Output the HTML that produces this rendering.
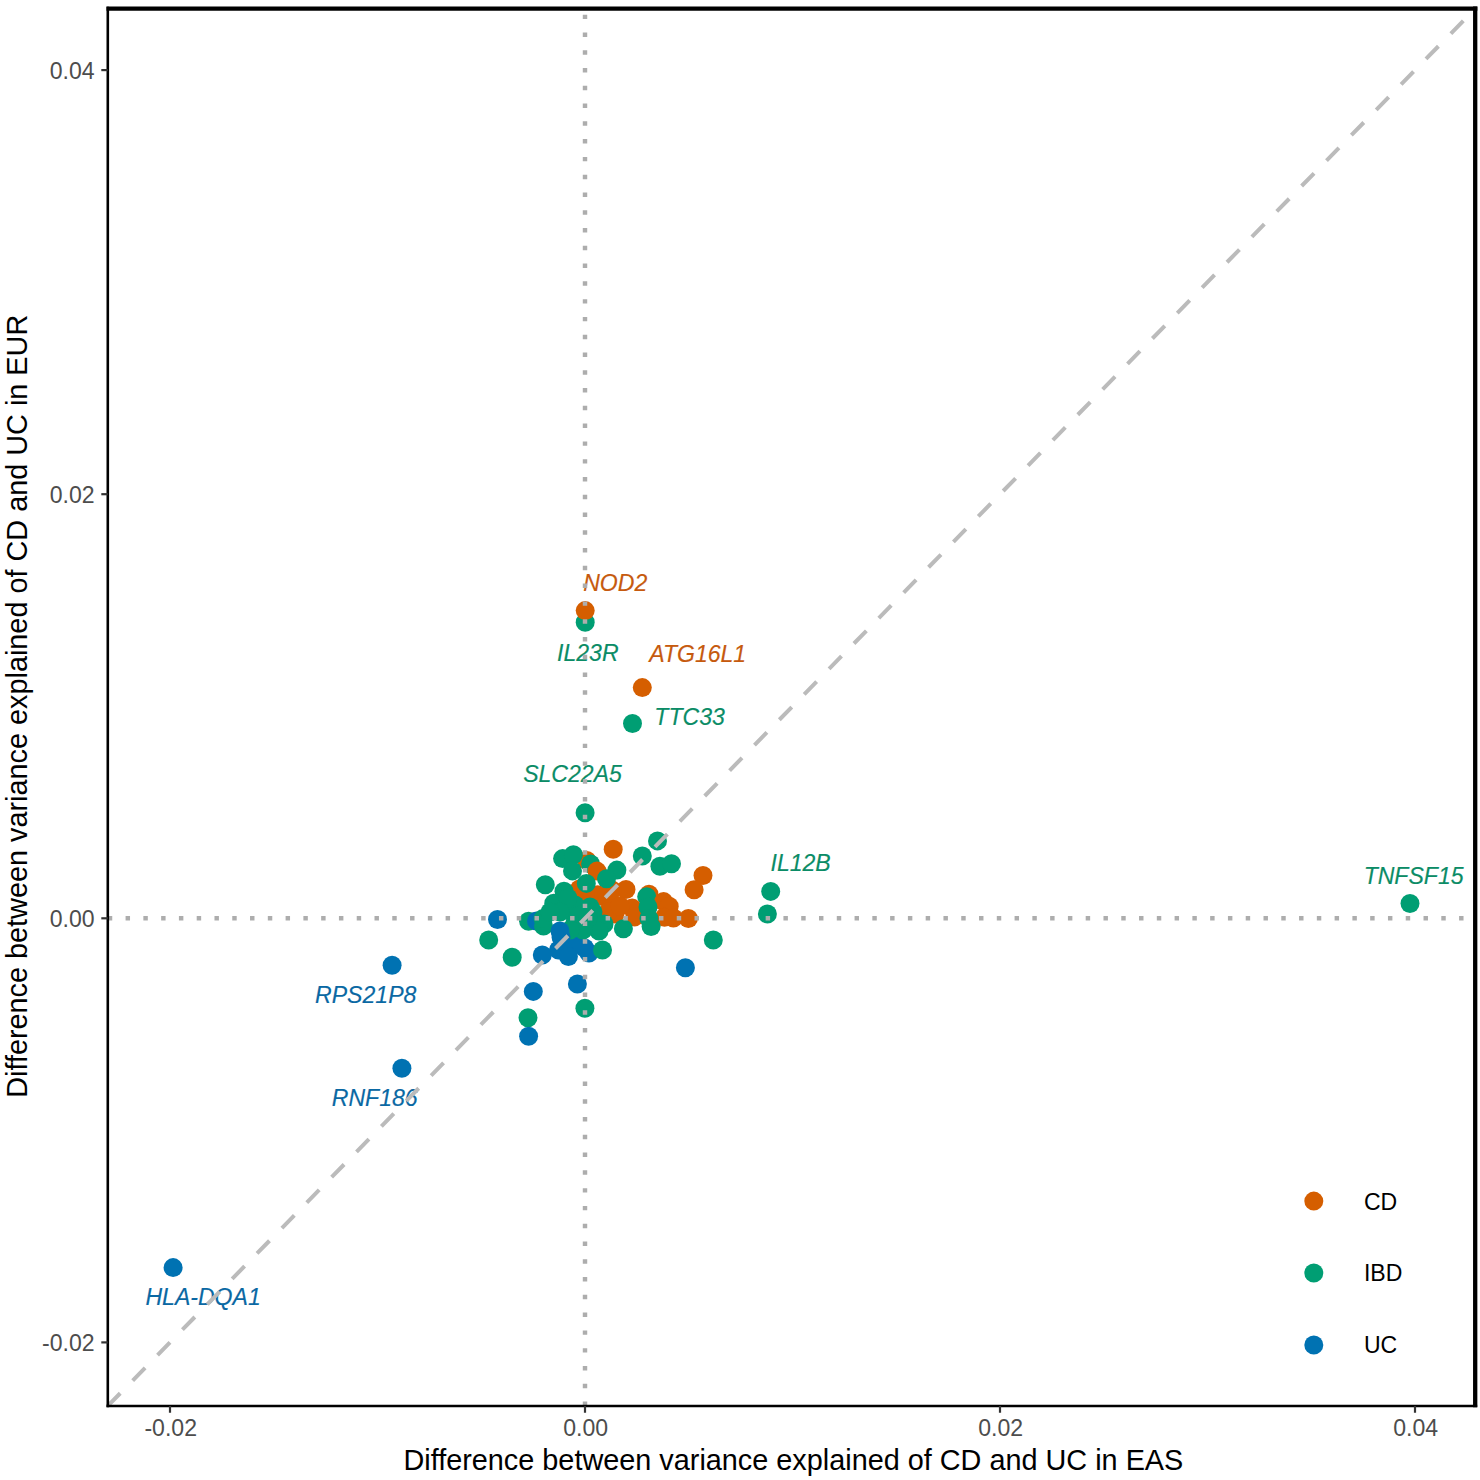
<!DOCTYPE html><html><head><meta charset="utf-8"><style>html,body{margin:0;padding:0;background:#fff;}svg{display:block;}text{font-family:"Liberation Sans",sans-serif;}</style></head><body>
<svg width="1480" height="1480" viewBox="0 0 1480 1480">
<rect width="1480" height="1480" fill="#fff"/>
<g>
<circle cx="585.2" cy="622.2" r="9.5" fill="#009E73"/>
<circle cx="585.2" cy="610.6" r="9.5" fill="#D55E00"/>
<circle cx="642.3" cy="687.6" r="9.5" fill="#D55E00"/>
<circle cx="632.5" cy="723.5" r="9.5" fill="#009E73"/>
<circle cx="585.1" cy="812.8" r="9.5" fill="#009E73"/>
<circle cx="770.7" cy="891.4" r="9.5" fill="#009E73"/>
<circle cx="767.4" cy="914.0" r="9.5" fill="#009E73"/>
<circle cx="1410.0" cy="903.5" r="9.5" fill="#009E73"/>
<circle cx="392.1" cy="965.2" r="9.5" fill="#0072B2"/>
<circle cx="401.9" cy="1068.3" r="9.5" fill="#0072B2"/>
<circle cx="173.1" cy="1267.6" r="9.5" fill="#0072B2"/>
<circle cx="497.5" cy="919.5" r="9.5" fill="#0072B2"/>
<circle cx="488.7" cy="940.0" r="9.5" fill="#009E73"/>
<circle cx="512.2" cy="957.3" r="9.5" fill="#009E73"/>
<circle cx="533.3" cy="991.4" r="9.5" fill="#0072B2"/>
<circle cx="577.4" cy="984.0" r="9.5" fill="#0072B2"/>
<circle cx="584.9" cy="1008.3" r="9.5" fill="#009E73"/>
<circle cx="528.0" cy="1017.8" r="9.5" fill="#009E73"/>
<circle cx="528.6" cy="1036.3" r="9.5" fill="#0072B2"/>
<circle cx="685.4" cy="967.8" r="9.5" fill="#0072B2"/>
<circle cx="713.3" cy="940.0" r="9.5" fill="#009E73"/>
<circle cx="657.5" cy="840.9" r="9.5" fill="#009E73"/>
<circle cx="613.2" cy="849.2" r="9.5" fill="#D55E00"/>
<circle cx="642.3" cy="856.0" r="9.5" fill="#009E73"/>
<circle cx="659.9" cy="866.2" r="9.5" fill="#009E73"/>
<circle cx="671.5" cy="863.8" r="9.5" fill="#009E73"/>
<circle cx="703.0" cy="875.5" r="9.5" fill="#D55E00"/>
<circle cx="694.1" cy="889.8" r="9.5" fill="#D55E00"/>
<circle cx="586.8" cy="860.4" r="9.5" fill="#D55E00"/>
<circle cx="562.6" cy="858.6" r="9.5" fill="#009E73"/>
<circle cx="573.4" cy="854.7" r="9.5" fill="#009E73"/>
<circle cx="572.5" cy="870.9" r="9.5" fill="#009E73"/>
<circle cx="590.6" cy="863.9" r="9.5" fill="#009E73"/>
<circle cx="597.0" cy="871.1" r="9.5" fill="#D55E00"/>
<circle cx="616.9" cy="870.1" r="9.5" fill="#009E73"/>
<circle cx="626.0" cy="889.5" r="9.5" fill="#D55E00"/>
<circle cx="649.0" cy="894.3" r="9.5" fill="#D55E00"/>
<circle cx="646.7" cy="896.8" r="9.5" fill="#009E73"/>
<circle cx="663.6" cy="901.6" r="9.5" fill="#D55E00"/>
<circle cx="669.2" cy="906.3" r="9.5" fill="#D55E00"/>
<circle cx="664.5" cy="917.3" r="9.5" fill="#D55E00"/>
<circle cx="673.4" cy="918.0" r="9.5" fill="#D55E00"/>
<circle cx="688.4" cy="918.5" r="9.5" fill="#D55E00"/>
<circle cx="632.2" cy="908.1" r="9.5" fill="#D55E00"/>
<circle cx="634.7" cy="916.9" r="9.5" fill="#D55E00"/>
<circle cx="613.2" cy="904.1" r="9.5" fill="#D55E00"/>
<circle cx="603.1" cy="896.6" r="9.5" fill="#D55E00"/>
<circle cx="597.7" cy="894.7" r="9.5" fill="#D55E00"/>
<circle cx="585.5" cy="896.7" r="9.5" fill="#D55E00"/>
<circle cx="615.0" cy="914.0" r="9.5" fill="#D55E00"/>
<circle cx="608.0" cy="912.0" r="9.5" fill="#D55E00"/>
<circle cx="612.0" cy="890.0" r="9.5" fill="#D55E00"/>
<circle cx="620.0" cy="906.0" r="9.5" fill="#D55E00"/>
<circle cx="579.5" cy="889.0" r="9.5" fill="#D55E00"/>
<circle cx="584.6" cy="948.0" r="9.5" fill="#0072B2"/>
<circle cx="575.0" cy="944.0" r="9.5" fill="#0072B2"/>
<circle cx="589.0" cy="953.0" r="9.5" fill="#0072B2"/>
<circle cx="545.3" cy="884.7" r="9.5" fill="#009E73"/>
<circle cx="564.0" cy="891.2" r="9.5" fill="#009E73"/>
<circle cx="586.3" cy="883.4" r="9.5" fill="#009E73"/>
<circle cx="606.5" cy="878.8" r="9.5" fill="#009E73"/>
<circle cx="648.0" cy="907.0" r="9.5" fill="#009E73"/>
<circle cx="648.9" cy="918.5" r="9.5" fill="#009E73"/>
<circle cx="651.1" cy="926.5" r="9.5" fill="#009E73"/>
<circle cx="623.4" cy="928.7" r="9.5" fill="#009E73"/>
<circle cx="528.6" cy="921.3" r="9.5" fill="#009E73"/>
<circle cx="536.5" cy="921.0" r="9.5" fill="#0072B2"/>
<circle cx="543.5" cy="926.0" r="9.5" fill="#009E73"/>
<circle cx="543.0" cy="918.6" r="9.5" fill="#009E73"/>
<circle cx="553.8" cy="903.3" r="9.5" fill="#009E73"/>
<circle cx="564.0" cy="910.0" r="9.5" fill="#009E73"/>
<circle cx="575.0" cy="905.0" r="9.5" fill="#009E73"/>
<circle cx="590.0" cy="907.0" r="9.5" fill="#009E73"/>
<circle cx="593.0" cy="912.0" r="9.5" fill="#009E73"/>
<circle cx="575.0" cy="922.0" r="9.5" fill="#009E73"/>
<circle cx="590.0" cy="924.0" r="9.5" fill="#009E73"/>
<circle cx="604.0" cy="924.0" r="9.5" fill="#009E73"/>
<circle cx="599.0" cy="931.0" r="9.5" fill="#009E73"/>
<circle cx="568.0" cy="898.0" r="9.5" fill="#009E73"/>
<circle cx="560.0" cy="912.0" r="9.5" fill="#009E73"/>
<circle cx="580.0" cy="915.0" r="9.5" fill="#009E73"/>
<circle cx="588.0" cy="918.0" r="9.5" fill="#009E73"/>
<circle cx="550.0" cy="912.0" r="9.5" fill="#009E73"/>
<circle cx="583.0" cy="930.0" r="9.5" fill="#009E73"/>
<circle cx="570.0" cy="930.0" r="9.5" fill="#009E73"/>
<circle cx="602.5" cy="950.0" r="9.5" fill="#009E73"/>
<circle cx="558.5" cy="950.0" r="9.5" fill="#0072B2"/>
<circle cx="561.0" cy="937.0" r="9.5" fill="#0072B2"/>
<circle cx="560.0" cy="931.0" r="9.5" fill="#0072B2"/>
<circle cx="542.3" cy="955.0" r="9.5" fill="#0072B2"/>
<circle cx="568.4" cy="956.5" r="9.5" fill="#0072B2"/>
</g>
<g font-style="italic" font-size="23.07" text-anchor="middle">
<text transform="translate(615.25 590.5) scale(1 1.03)" fill="#C65A0E" stroke="#C65A0E" stroke-width="0.15">NOD2</text>
<text transform="translate(587.8 661.0) scale(1 1.03)" fill="#0B8C66" stroke="#0B8C66" stroke-width="0.15">IL23R</text>
<text transform="translate(697.7 661.8) scale(1 1.03)" fill="#C65A0E" stroke="#C65A0E" stroke-width="0.15">ATG16L1</text>
<text transform="translate(689.6 725.0) scale(1 1.03)" fill="#0B8C66" stroke="#0B8C66" stroke-width="0.15">TTC33</text>
<text transform="translate(572.5 781.6) scale(1 1.03)" fill="#0B8C66" stroke="#0B8C66" stroke-width="0.15">SLC22A5</text>
<text transform="translate(800.6 871.4) scale(1 1.03)" fill="#0B8C66" stroke="#0B8C66" stroke-width="0.15">IL12B</text>
<text transform="translate(1413.6 883.7) scale(1 1.03)" fill="#0B8C66" stroke="#0B8C66" stroke-width="0.15">TNFSF15</text>
<text transform="translate(365.7 1002.7) scale(1 1.03)" fill="#0A68A3" stroke="#0A68A3" stroke-width="0.15">RPS21P8</text>
<text transform="translate(374.7 1106.0) scale(1 1.03)" fill="#0A68A3" stroke="#0A68A3" stroke-width="0.15">RNF186</text>
<text transform="translate(203.1 1304.8) scale(1 1.03)" fill="#0A68A3" stroke="#0A68A3" stroke-width="0.15">HLA-DQA1</text>
</g>
<line x1="585.0" y1="1405.95" x2="585.0" y2="8.65" stroke="#ADADAD" stroke-width="4.445" stroke-dasharray="4.445 13.335"/>
<line x1="107.8" y1="918.3" x2="1475.2" y2="918.3" stroke="#ADADAD" stroke-width="4.445" stroke-dasharray="4.445 13.335"/>
<line x1="107.8" y1="1405.95" x2="1475.2" y2="8.65" stroke="#BBBBBB" stroke-width="4.001" stroke-dasharray="17.78 17.78"/>
<line x1="107.8" y1="6.65" x2="107.8" y2="1407.15" stroke="#000" stroke-width="2.6"/>
<line x1="106.5" y1="1405.95" x2="1477.2" y2="1405.95" stroke="#000" stroke-width="2.5"/>
<line x1="106.5" y1="8.65" x2="1477.3500000000001" y2="8.65" stroke="#000" stroke-width="4.3"/>
<line x1="1475.2" y1="6.5" x2="1475.2" y2="1407.2" stroke="#000" stroke-width="4.3"/>
<line x1="101.3" y1="70.10" x2="107.8" y2="70.10" stroke="#333" stroke-width="2.2"/>
<text x="94.6" y="78.50" font-size="23.07" fill="#4D4D4D" text-anchor="end">0.04</text>
<line x1="101.3" y1="494.20" x2="107.8" y2="494.20" stroke="#333" stroke-width="2.2"/>
<text x="94.6" y="502.60" font-size="23.07" fill="#4D4D4D" text-anchor="end">0.02</text>
<line x1="101.3" y1="918.30" x2="107.8" y2="918.30" stroke="#333" stroke-width="2.2"/>
<text x="94.6" y="926.70" font-size="23.07" fill="#4D4D4D" text-anchor="end">0.00</text>
<line x1="101.3" y1="1342.40" x2="107.8" y2="1342.40" stroke="#333" stroke-width="2.2"/>
<text x="94.6" y="1350.80" font-size="23.07" fill="#4D4D4D" text-anchor="end">-0.02</text>
<line x1="170.00" y1="1405.95" x2="170.00" y2="1412.75" stroke="#333" stroke-width="2.2"/>
<text x="170.70" y="1435.7" font-size="23.07" fill="#4D4D4D" text-anchor="middle">-0.02</text>
<line x1="585.00" y1="1405.95" x2="585.00" y2="1412.75" stroke="#333" stroke-width="2.2"/>
<text x="585.70" y="1435.7" font-size="23.07" fill="#4D4D4D" text-anchor="middle">0.00</text>
<line x1="1000.00" y1="1405.95" x2="1000.00" y2="1412.75" stroke="#333" stroke-width="2.2"/>
<text x="1000.70" y="1435.7" font-size="23.07" fill="#4D4D4D" text-anchor="middle">0.02</text>
<line x1="1415.00" y1="1405.95" x2="1415.00" y2="1412.75" stroke="#333" stroke-width="2.2"/>
<text x="1415.70" y="1435.7" font-size="23.07" fill="#4D4D4D" text-anchor="middle">0.04</text>
<text x="793.4" y="1469.7" font-size="28.84" fill="#000" text-anchor="middle">Difference between variance explained of CD and UC in EAS</text>
<text transform="translate(27.3 706.3) rotate(-90)" x="0" y="0" font-size="28.84" fill="#000" text-anchor="middle">Difference between variance explained of CD and UC in EUR</text>
<circle cx="1313.8" cy="1201.10" r="9.5" fill="#D55E00"/>
<text x="1363.9" y="1209.50" font-size="23.07" fill="#000">CD</text>
<circle cx="1313.8" cy="1273.05" r="9.5" fill="#009E73"/>
<text x="1363.9" y="1281.45" font-size="23.07" fill="#000">IBD</text>
<circle cx="1313.8" cy="1345.00" r="9.5" fill="#0072B2"/>
<text x="1363.9" y="1353.40" font-size="23.07" fill="#000">UC</text>
</svg></body></html>
